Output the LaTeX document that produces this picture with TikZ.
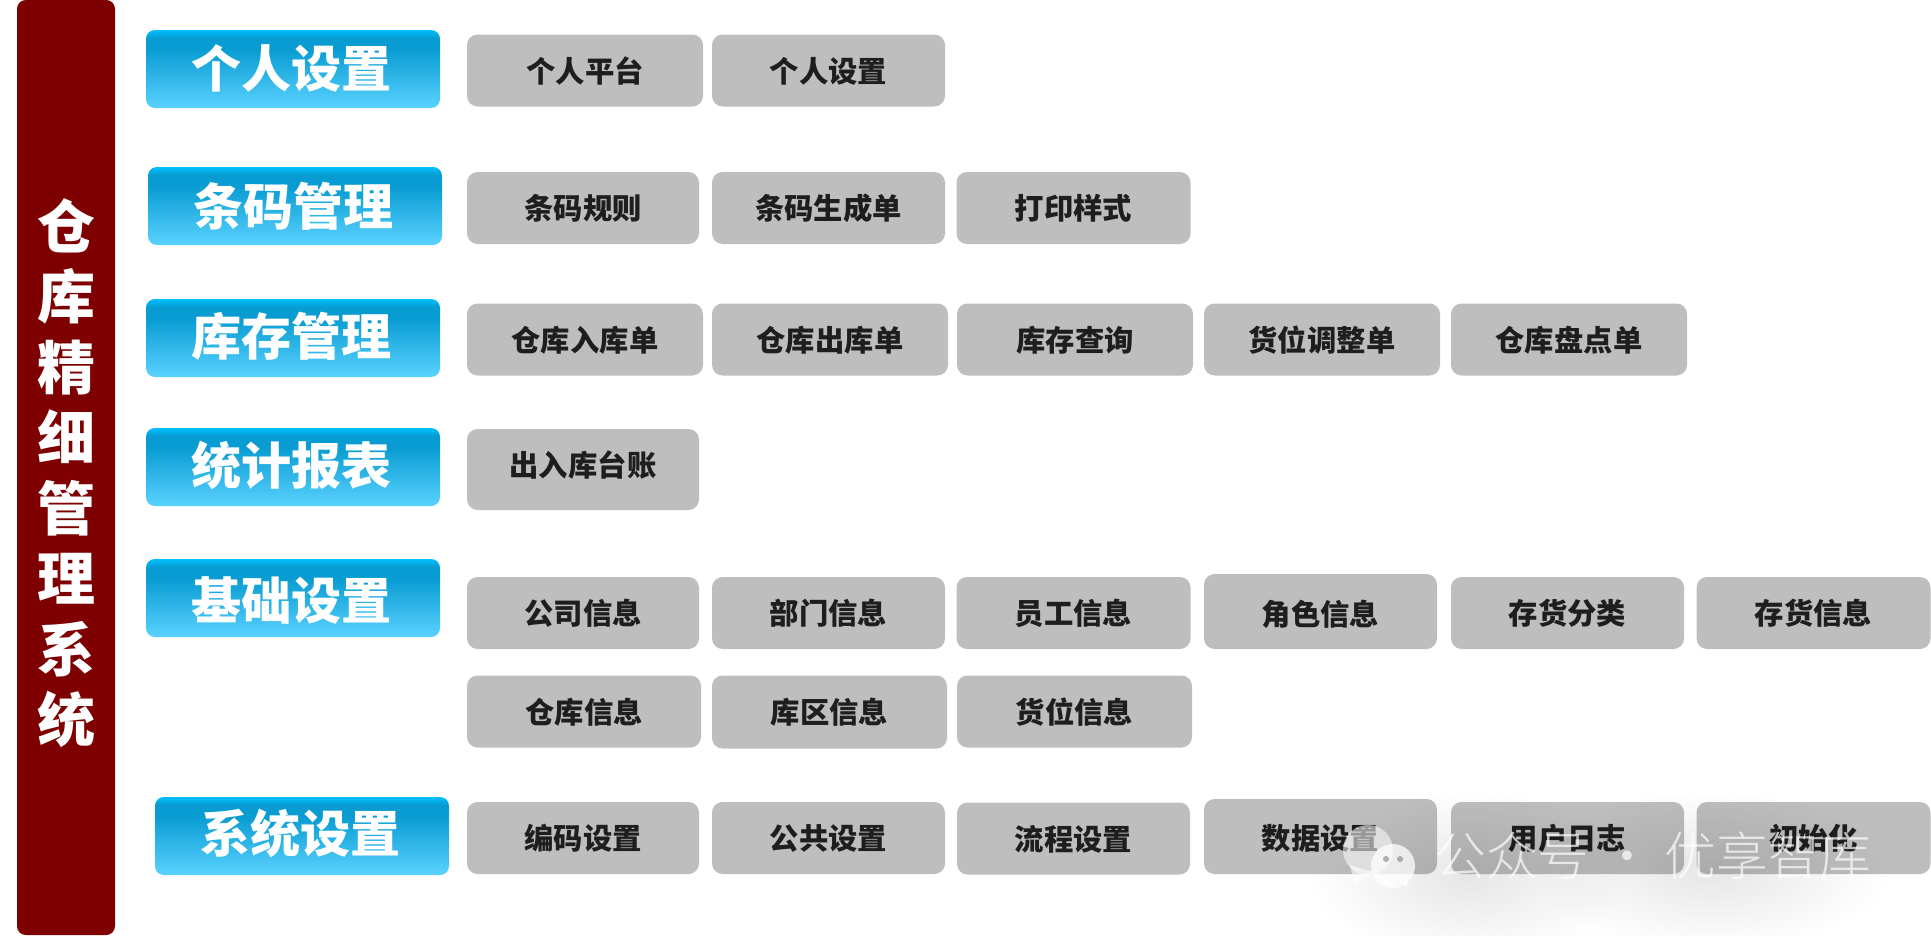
\documentclass[tikz,border=0pt]{standalone}
\usepackage{fontspec}
\usepackage{xcolor}
\setmainfont{Noto Sans CJK SC}
\newfontfamily\brandfont{Noto Sans CJK SC}[UprightFont=* Light]
\usetikzlibrary{positioning,fadings}

\definecolor{barred}{HTML}{7F0000}
\definecolor{itemgray}{HTML}{BEBEBE}
\definecolor{itemtext}{HTML}{1E1E1E}
\definecolor{headtop}{HTML}{00BFFF}
\definecolor{headmid}{HTML}{089CD2}
\definecolor{headlow}{HTML}{5AD2FF}
\pgfdeclareverticalshading{headblue}{100bp}{
  color(0bp)=(headlow);
  color(25bp)=(headlow);
  color(63bp)=(headmid);
  color(70bp)=(headmid);
  color(75bp)=(headtop);
  color(100bp)=(headtop)}
\tikzfading[name=softblob, inner color=transparent!90, outer color=transparent!100]

\begin{document}
\begin{tikzpicture}[
  x=1cm, y=1cm,
  bar/.style={fill=barred, rounded corners=5pt, minimum width=1.96cm,
    minimum height=18.7cm, align=center, text=white, inner sep=0pt,
    font=\fontsize{33}{40.1}\selectfont\bfseries},
  head/.style={shading=headblue, rounded corners=5pt, minimum width=5.88cm,
    minimum height=1.56cm, inner sep=0pt, text=white, text height=25pt, text depth=5pt,
    execute at begin node=\kern-2pt,
    font=\fontsize{28.5}{32}\selectfont\bfseries},
  item/.style={fill=itemgray, rounded corners=6pt, minimum width=4.66cm,
    minimum height=1.44cm, inner sep=0pt, text=itemtext, text height=15.5pt, text depth=2pt,
    font=\fontsize{16.7}{19}\selectfont\bfseries},
  brandmark/.style={text=white, text opacity=0.7, inner sep=0pt,
    font=\fontsize{29.5}{32}\brandfont}
]
\useasboundingbox (0,0) rectangle (38.62,-18.7);

\node[bar]  (title) at (1.32,-9.35) {\rule{0pt}{34.7pt}仓\\库\\精\\细\\管\\理\\系\\统};

\node[head, text depth=4pt]   (personal) at (5.86,-1.38)  {个人设置};
\node[head, text depth=2.5pt] (barcode)  at (5.90,-4.12)  {条码管理};
\node[head] (stock)    at (5.86,-6.76)  {库存管理};
\node[head] (report)   at (5.86,-9.34)  {统计报表};
\node[head, text depth=1pt]   (basic)    at (5.86,-11.96) {基础设置};
\node[head, text depth=6pt]   (system)   at (6.04,-16.72) {系统设置};

\node[item, minimum width=4.72cm] (p1) at (11.70,-1.41) {个人平台};
\node[item] (p2) at (16.57,-1.41) {个人设置};

\node[item, minimum width=4.64cm] (b1) at (11.66,-4.16) {条码规则};
\node[item] (b2) at (16.57,-4.16) {条码生成单};
\node[item, minimum width=4.68cm] (b3) at (21.47,-4.16) {打印样式};

\node[item, minimum width=4.72cm] (s1) at (11.70,-6.79) {仓库入库单};
\node[item, minimum width=4.72cm] (s2) at (16.60,-6.79) {仓库出库单};
\node[item, minimum width=4.72cm] (s3) at (21.50,-6.79) {库存查询};
\node[item, minimum width=4.72cm] (s4) at (26.44,-6.79) {货位调整单};
\node[item, minimum width=4.72cm] (s5) at (31.38,-6.79) {仓库盘点单};

\node[item, minimum width=4.64cm, minimum height=1.62cm, text depth=0.24cm, text height=0.50cm] (r1) at (11.66,-9.39) {出入库台账};

\node[item, minimum width=4.64cm] (c1) at (11.66,-12.26) {公司信息};
\node[item] (c2) at (16.57,-12.26) {部门信息};
\node[item, minimum width=4.68cm] (c3) at (21.47,-12.26) {员工信息};
\node[item, minimum height=1.50cm, text height=18pt] (c4) at (26.41,-12.23) {角色信息};
\node[item] (c5) at (31.35,-12.26) {存货分类};
\node[item, minimum width=4.68cm] (c6) at (36.27,-12.26) {存货信息};
\node[item, minimum width=4.68cm] (c7) at (11.68,-14.23) {仓库信息};
\node[item, minimum width=4.70cm, minimum height=1.46cm] (c8) at (16.59,-14.24) {库区信息};
\node[item, minimum width=4.70cm] (c9) at (21.49,-14.23) {货位信息};

\node[item, minimum width=4.64cm] (y1) at (11.66,-16.76) {编码设置};
\node[item] (y2) at (16.57,-16.76) {公共设置};
\node[item] (y3) at (21.47,-16.77) {流程设置};
\node[item, minimum height=1.50cm, text height=17pt] (y4) at (26.41,-16.73) {数据设置};
\node[item] (y5) at (31.35,-16.76) {用户日志};
\node[item, minimum width=4.68cm] (y6) at (36.27,-16.76) {初始化};

% watermark over the last row
\fill[black, path fading=softblob] (26.2,-19.2) rectangle (32.6,-15.8);
\fill[black, path fading=softblob] (30.6,-19.0) rectangle (37.8,-15.8);
\fill[white, opacity=0.55] (27.36,-17.0) circle (0.5);
\fill[white, opacity=0.55] (27.0,-17.3) -- (27.08,-17.68) -- (27.5,-17.45) -- cycle;
\fill[white, opacity=0.75] (27.86,-17.32) circle (0.44);
\fill[white, opacity=0.75] (27.95,-17.6) -- (28.14,-17.76) -- (28.16,-17.5) -- cycle;
\fill[gray, opacity=0.6] (27.72,-17.18) circle (0.06) (28.0,-17.18) circle (0.06);
\node[brandmark] (brand) at (33.06,-17.12) {公众号 · 优享智库};
\end{tikzpicture}
\end{document}
